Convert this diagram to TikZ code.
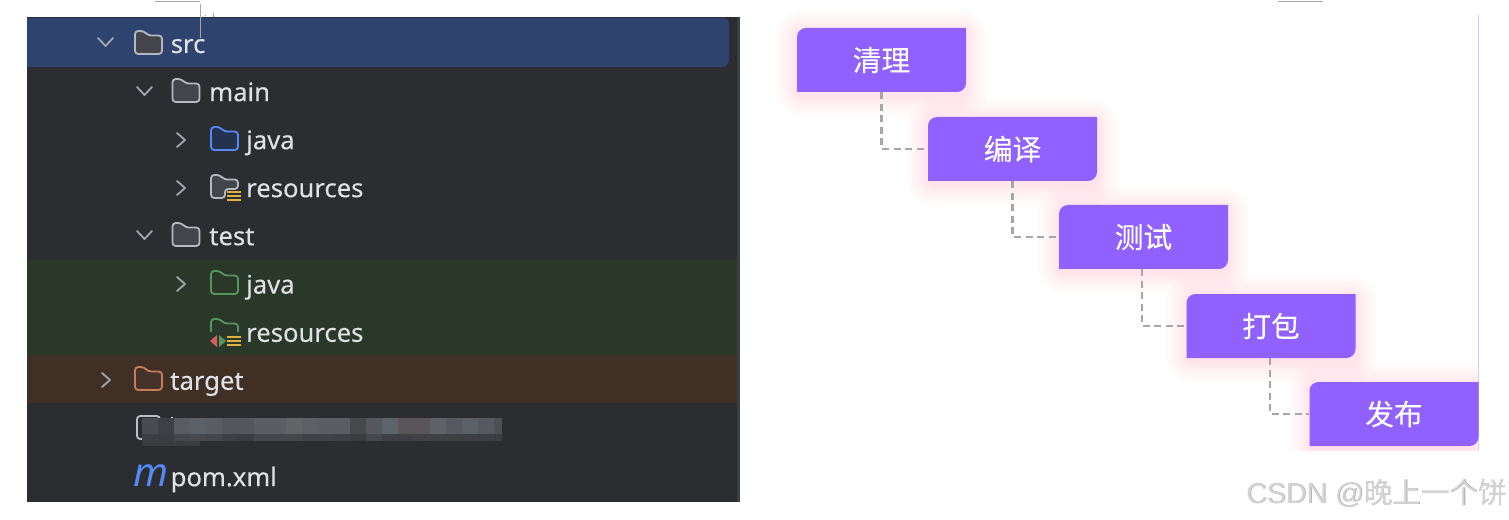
\documentclass[tikz,border=0pt]{standalone}
\usepackage{fontspec}
\setmainfont{Noto Sans}
\newfontfamily\treefont[FakeBold=0.2]{Noto Sans}
\newfontfamily\cjk[FakeBold=0.2]{Noto Sans CJK SC}
\newfontfamily\wmcjk{Noto Sans CJK SC}
\newfontfamily\wm{Liberation Sans}
\usetikzlibrary{calc}
\definecolor{panel}{HTML}{2B2D30}
\definecolor{selrow}{HTML}{2E436E}
\definecolor{greenrow}{HTML}{293829}
\definecolor{brownrow}{HTML}{3F2F24}
\definecolor{stripe}{HTML}{3C3F41}
\definecolor{treetext}{HTML}{DFE1E5}
\definecolor{chev}{HTML}{A0A3AA}
\definecolor{stepfill}{HTML}{9061FF}
\definecolor{glow}{HTML}{FF9DB8}
\definecolor{dashc}{HTML}{A6A6A6}
\definecolor{bluei}{HTML}{548AF7}
\definecolor{bluef}{HTML}{25324D}
\definecolor{greeni}{HTML}{57965C}
\definecolor{orangei}{HTML}{C77D55}
\definecolor{orangef}{HTML}{45322A}
\definecolor{grayi}{HTML}{B4B8BF}
\definecolor{grayf}{HTML}{43454A}
\definecolor{bari}{HTML}{E0B040}
\definecolor{redi}{HTML}{DB5C5C}
\definecolor{wmc}{HTML}{D4D4D4}
\definecolor{mosdark}{HTML}{3B3C40}
\definecolor{edgeblue}{HTML}{C5D0FF}
\tikzset{
  treelabel/.style={anchor=base west,inner sep=0pt,text=treetext,font=\treefont\fontsize{19.2}{24}\selectfont},
  chevron/.style={draw=chev,line width=1.4pt,line join=round,line cap=round},
  folder/.style={line width=1.35pt,rounded corners=2.4pt,line join=round},
  bars/.style={draw=bari,line width=1.1pt},
  stepbox/.style={minimum width=126.75pt,minimum height=48pt,inner sep=0pt,text=white,
    font=\cjk\fontsize{21.5}{25}\selectfont},
  stepline/.style={draw=dashc,line width=1.6pt,dash pattern=on 5.4pt off 3.2pt},
  artefact/.style={draw=black!35,line width=.5pt}
}
\newcommand{\folderat}[4]{\path[folder,draw=#3,fill=#4,shift={(#1,#2)}] (0,23) -- (0,0) -- (9,0) -- (13,4.5) -- (27,4.5) -- (27,23) -- cycle;}
\newcommand{\downchev}[2]{\draw[chevron,shift={(#1,#2)}] (0,0) -- (7.5,8) -- (15,0);}
\newcommand{\rightchev}[2]{\draw[chevron,shift={(#1,#2)}] (0,0) -- (8,7) -- (0,14);}
\newcommand{\steptext}[1]{\raisebox{1.2pt}{#1}}
\begin{document}
\begin{tikzpicture}[x=.75pt,y=-.75pt]
\useasboundingbox (0,0) rectangle (1509,520);
\fill[white] (0,0) rectangle (1509,520);
% ---- left panel
\fill[panel] (27,17) rectangle (737,502);
\fill[stripe] (737,17) rectangle (740,502);
\fill[selrow] (27,18) -- (724,18) to[out=0,in=90] (729,23) -- (729,62) to[out=90,in=0] (724,67) -- (27,67) -- cycle;
\fill[greenrow] (27,260) rectangle (737,355);
\fill[brownrow] (27,355) rectangle (737,403);
% chevrons
\downchev{98}{38}
\downchev{137}{87}
\rightchev{177}{133}
\rightchev{177}{181}
\downchev{137}{231}
\rightchev{177}{277}
\rightchev{102}{373}
% folders
\folderat{135}{31}{grayi}{grayf}
\folderat{172.5}{79}{grayi}{grayf}
\folderat{211}{127}{bluei}{bluef}
% resources folder with cut corner
\path[folder,draw=grayi,fill=grayf,shift={(211,175)}] (14,23) -- (0,23) -- (0,0) -- (9,0) -- (13,4.5) -- (27,4.5) -- (27,14) -- (14,14) -- cycle;
\draw[bars] (227,192) -- (241,192) (227,196) -- (241,196) (227,200) -- (241,200);
\folderat{172.5}{223}{grayi}{grayf}
\folderat{211}{271}{greeni}{greenrow}
% test resources folder
\draw[folder,draw=greeni,shift={(211,319)}] (0,13) -- (0,0) -- (9,0) -- (13,4.5) -- (27,4.5) -- (27,13);
\fill[redi] (217,335) -- (210,341) -- (217,347) -- cycle;
\fill[greeni] (219,335) -- (226,341) -- (219,347) -- cycle;
\draw[bars] (227,337) -- (241,337) (227,341) -- (241,341) (227,345) -- (241,345);
\folderat{135}{367}{orangei}{orangef}
% tree labels
\node[treelabel] (src) at (170.5,53) {src};
\node[treelabel] (main) at (209,101.2) {main};
\node[treelabel] (java1) at (246,149.2) {java};
\node[treelabel] (res1) at (246,197.2) {resources};
\node[treelabel] (test) at (209,245.2) {test};
\node[treelabel] (java2) at (246,293.6) {java};
\node[treelabel] (res2) at (246,341.8) {resources};
\node[treelabel] (target) at (170,389.8) {target};
\node[treelabel] (pom) at (170.5,486.2) {pom.xml};
\node[anchor=base west,inner sep=0pt,text=bluei,font=\fontsize{30}{32}\itshape\selectfont] (micon) at (133,486) {m};
% blurred entry
\draw[folder,draw=grayi!90] (137,416) rectangle (160,439);
\fill[treetext] (171,417) rectangle (173,422);
\foreach \i/\c in {0/4A4B50,1/3F4045,2/5A5C61,3/5B6068,4/5C5D62,5/55565B,6/55565B,7/5C5D62,8/5C5D62,9/626367,10/5E5F64,11/5C5D62,12/5C5D62,13/47484C,14/57585D,15/5C646A,16/5A5558,17/5A5558,18/606165,19/565A60,20/5B6066,21/565A60}{
  \definecolor{mosc}{HTML}{\c}
  \fill[mosc] ({142+\i*16},418) rectangle ({142+(\i+1)*16+0.3},434);
}
\definecolor{mosc}{HTML}{4E4F53}
\fill[mosc] (494,418) rectangle (502,434);
\foreach \i/\c in {0/3E3F44,1/3C3D42,2/45464B,3/484A50,4/45464A,5/3F4045,6/3C3D42,7/46474B,8/46474B,9/46474B,10/414246,11/414246,12/3F4044,13/3B3C40,14/46474B,15/3E3F44,16/3E3F44,17/414246,18/3F4044,19/3F4044,20/3E3F44,21/3E3F44}{
  \definecolor{mosc}{HTML}{\c}
  \fill[mosc] ({142+\i*16},434) rectangle ({142+(\i+1)*16+0.3},441);
}
\definecolor{mosc}{HTML}{3C3D41}
\fill[mosc] (494,434) rectangle (502,441);
\fill[mosdark] (142,441) rectangle (200,446);
% ---- right panel
\begin{scope}
\clip (770,10) rectangle (1478,450);
\foreach \x/\y in {797/28,928/117,1059/205,1187/294,1310/382}{
  \foreach \r in {22,20,...,2}{
    \fill[glow,opacity=.016,rounded corners={(\r+6)*.75pt}] ({\x-\r},{\y-\r+3}) rectangle ({\x+169+\r},{\y+64+\r+3});
  }
  \foreach \r in {10,8,...,2}{
    \fill[glow,opacity=.012,rounded corners={(\r+6)*.75pt}] ({\x-\r},{\y-\r+3}) rectangle ({\x+169+\r},{\y+64+\r+3});
  }
}
\end{scope}
\draw[edgeblue,line width=1.1pt] (1478.7,15) -- (1478.7,450);
\draw[artefact] (155,1) -- (200,1) (200,4) -- (200,38) (213,13) -- (213,17) (205,15) -- (206,15) (1278,1) -- (1323,1);
% step shapes: top left and bottom right corners are rounded
\foreach \x/\y in {797/28,928/117,1059/205,1186.5/294,1309.5/382}{
  \fill[stepfill,shift={(\x,\y)}] (0,64) -- (0,9) .. controls (0,4) and (4,0) .. (9,0) -- (169,0) -- (169,55) .. controls (169,60) and (165,64) .. (160,64) -- cycle;
}
% steps
\node[stepbox] (s1) at (881.5,60) {\steptext{清理}};
\node[stepbox] (s2) at (1012.5,149) {\steptext{编译}};
\node[stepbox] (s3) at (1143.5,237) {\steptext{测试}};
\node[stepbox] (s4) at (1271,326) {\steptext{打包}};
\node[stepbox] (s5) at (1394,414) {\steptext{发布}};
\draw[stepline] (s1.south) |- (s2.west);
\draw[stepline] (s2.south) |- (s3.west);
\draw[stepline] ([xshift=-1pt]s3.south) |- (s4.west);
\draw[stepline] ([xshift=-.75pt]s4.south) |- (s5.west);
% watermark
\node[anchor=base west,inner sep=0pt,text=black!32,font=\wm\fontsize{21.4}{24}\selectfont] (wm2) at (1246.8,503.8) {CSDN @\wmcjk 晚上一个饼};
\node[anchor=base west,inner sep=0pt,text=wmc,font=\wm\fontsize{21.4}{24}\selectfont] (wm) at (1246,503) {CSDN @\wmcjk 晚上一个饼};
\end{tikzpicture}
\end{document}
